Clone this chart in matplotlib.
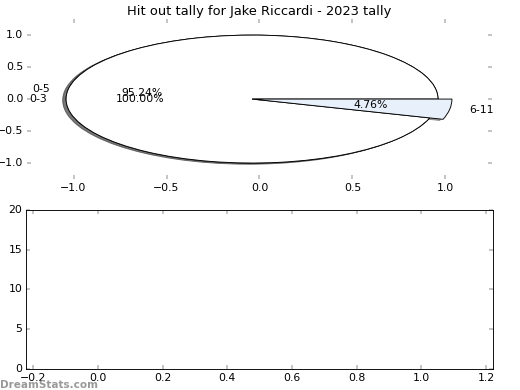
import matplotlib
matplotlib.use("Agg")
import matplotlib.pyplot as plt

# data
outer_labels = ["0-3"]
outer_values = [1]
outer_colors = ["white"]

inner_labels = ["0-5", "6-11"]
inner_values = [20, 1]
inner_colors = ["white", "#e8f0fc"]

pie_ticks = [-1.0, -0.5, 0.0, 0.5, 1.0]
bar_xticks = [-0.2, 0.0, 0.2, 0.4, 0.6, 0.8, 1.0, 1.2]
bar_yticks = [0, 5, 10, 15, 20]

title = "Hit out tally for Jake Riccardi - 2023 tally"
watermark = "DreamStats.com"

plt.style.use("classic")

pie_center = (-0.04, 0.0)
wedge_kw = dict(edgecolor="k", linewidth=1)


def grow_wedge(wedge, texts, center, factor):
    """Enlarge one pie wedge and push its texts out by the same factor."""
    wedge.set_radius(wedge.r * factor)
    for t in texts:
        x, y = t.get_position()
        t.set_position((center[0] + (x - center[0]) * factor,
                        center[1] + (y - center[1]) * factor))


fig = plt.figure(figsize=(8, 6), dpi=65)
ax_pie = fig.add_axes([0.052, 0.541, 0.894, 0.41])
ax_bar = fig.add_axes([0.05, 0.054, 0.898, 0.408])

ax_pie.pie(outer_values, labels=outer_labels, colors=outer_colors,
           autopct="%1.2f%%", shadow=True, center=pie_center, frame=True,
           wedgeprops=wedge_kw)
wedges, texts, autotexts = ax_pie.pie(
    inner_values, labels=inner_labels, colors=inner_colors,
    autopct="%1.2f%%", shadow=True, center=pie_center, frame=True,
    wedgeprops=wedge_kw)
grow_wedge(wedges[1], [texts[1], autotexts[1]], pie_center, 1.075)

ax_pie.set_aspect("auto")
ax_pie.set_frame_on(False)
ax_pie.set_xlim(-1.25, 1.25)
ax_pie.set_ylim(-1.25, 1.25)
ax_pie.set_xticks(pie_ticks)
ax_pie.set_yticks(pie_ticks)
ax_pie.set_title(title, fontsize=14.4)

ax_bar.set_xlim(-0.2226, 1.2217)
ax_bar.set_ylim(0, 20)
ax_bar.set_xticks(bar_xticks)
ax_bar.set_yticks(bar_yticks)

fig.text(0.0, 0.0, watermark, color="#999999", fontsize=11.5,
         fontweight="bold", ha="left", va="bottom")

fig.savefig("out.png", dpi=65)
